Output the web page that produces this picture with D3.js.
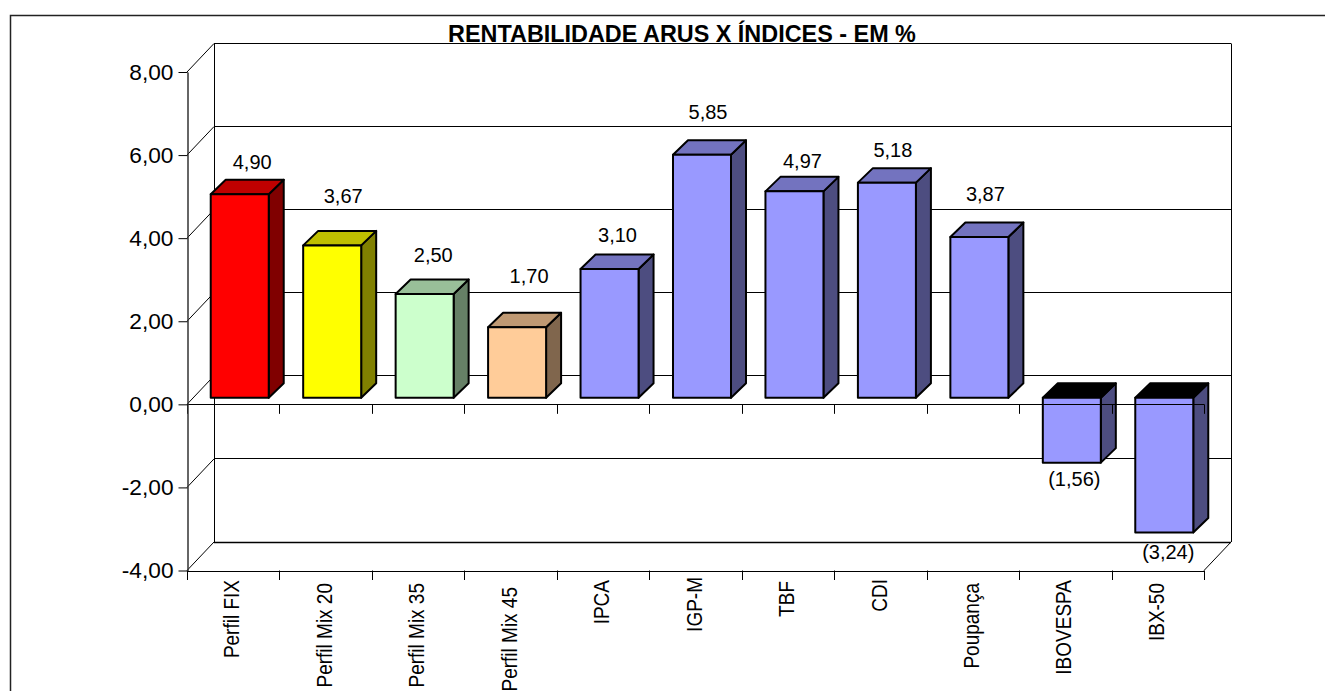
<!DOCTYPE html>
<html>
<head>
<meta charset="utf-8">
<script src="https://cdn.jsdelivr.net/npm/d3@7"></script>
<style>
html, body { margin: 0; padding: 0; background: #fff; overflow: hidden; }
text { font-family: "Liberation Sans", Arial, sans-serif; fill: #000; }
</style>
</head>
<body>
<div id="chart"></div>
<script>
// values
var categories = ["Perfil FIX", "Perfil Mix 20", "Perfil Mix 35", "Perfil Mix 45", "IPCA", "IGP-M", "TBF", "CDI", "Poupança", "IBOVESPA", "IBX-50"];
var values = [4.90, 3.67, 2.50, 1.70, 3.10, 5.85, 4.97, 5.18, 3.87, -1.56, -3.24];
var yTicks = [-4, -2, 0, 2, 4, 6, 8];
var titleText = "RENTABILIDADE ARUS X ÍNDICES - EM %";

var frontColors = ["#ff0000", "#ffff00", "#ccffcc", "#ffcc99", "#9999ff", "#9999ff", "#9999ff", "#9999ff", "#9999ff", "#9999ff", "#9999ff"];

// chart's own odd label placement, px above the back top edge of the bar (below the bar for negatives)
var labelLift = [18, 35, 24, 37, 20, 28, 16, 18, 29, -16, -20];
var labelShift = [12.5, 11, 8.6, 12, 8, 6, 8, 6, 6, 2.5, 4];
// category labels don't all start at the same y
var catNudge = [0, 3, 3, 7, 0, -3, 1, -1, 3, 0, 3];

var width = 1325, height = 691;
var wallDx = 27, wallDy = -28.5;   // front plane to back wall
var planeDx = 6.5, planeDy = -6.5; // front plane to bar front faces
var barDx = 15, barDy = -14.5;     // bar depth

var svg = d3.select("#chart").append("svg")
  .attr("width", width)
  .attr("height", height)
  .style("display", "block");

var x = d3.scaleBand()
  .domain(categories)
  .range([187, 1204])
  .paddingInner(0.3726)
  .paddingOuter(0.1863);

var y = d3.scaleLinear()
  .domain([-4, 8])
  .range([570.5, 72]);

var decimal = d3.formatLocale({decimal: ",", thousands: ".", grouping: [3], currency: ["", ""]}).format(".2f");

function shade(hex, k) {
  var c = d3.rgb(hex);
  return d3.rgb(c.r * k, c.g * k, c.b * k).formatHex();
}

// outer frame, runs off the page on the right and bottom
svg.append("path")
  .attr("d", "M10.5," + height + "V15.5H" + width)
  .attr("fill", "none")
  .attr("stroke", "#222")
  .attr("stroke-width", 1.5);

var left = x.range()[0], right = x.range()[1];
var step = x.step();
var edges = d3.range(categories.length + 1).map(function(i) { return left + i * step; });

var lines = svg.append("g").attr("stroke", "#000").attr("fill", "none");

// back wall
lines.selectAll(".grid").data(yTicks).enter().append("line")
  .attr("class", "grid")
  .attr("x1", left + wallDx).attr("x2", right + wallDx)
  .attr("y1", function(d) { return Math.floor(y(d) + wallDy) + 0.5; })
  .attr("y2", function(d) { return Math.floor(y(d) + wallDy) + 0.5; })
  .attr("stroke-width", function(d) { return d === -4 ? 1.5 : 1; });

// side wall diagonals
lines.selectAll(".diag").data(yTicks).enter().append("line")
  .attr("class", "diag")
  .attr("x1", left).attr("y1", function(d) { return y(d); })
  .attr("x2", left + wallDx).attr("y2", function(d) { return y(d) + wallDy; });

// floor right edge
lines.append("line")
  .attr("x1", right).attr("y1", y(-4))
  .attr("x2", right + wallDx).attr("y2", y(-4) + wallDy);

// wall verticals
[left + wallDx, right + wallDx].forEach(function(px) {
  lines.append("line")
    .attr("x1", Math.round(px) + 0.5).attr("x2", Math.round(px) + 0.5)
    .attr("y1", y(8) + wallDy).attr("y2", y(-4) + wallDy);
});

// floor front edge, ticks
lines.append("line")
  .attr("x1", left).attr("x2", right)
  .attr("y1", Math.round(y(-4)) + 0.5).attr("y2", Math.round(y(-4)) + 0.5);
lines.selectAll(".floorTick").data(edges).enter().append("line")
  .attr("class", "floorTick")
  .attr("x1", function(d) { return Math.round(d) + 0.5; })
  .attr("x2", function(d) { return Math.round(d) + 0.5; })
  .attr("y1", y(-4)).attr("y2", y(-4) + 9.5);

// bars
var bars = svg.selectAll(".bar").data(values).enter().append("g").attr("class", "bar");

function barX(i) { return x(categories[i]) + planeDx; }
function barTop(d) { return y(Math.max(d, 0)) + planeDy; }
function barBottom(d) { return y(Math.min(d, 0)) + planeDy; }

bars.append("polygon") // side
  .attr("points", function(d, i) {
    var r = barX(i) + x.bandwidth();
    return [[r, barTop(d)], [r + barDx, barTop(d) + barDy], [r + barDx, barBottom(d) + barDy], [r, barBottom(d)]].join(" ");
  })
  .attr("fill", function(d, i) { return shade(frontColors[i], 0.5); });

bars.append("polygon") // top
  .attr("points", function(d, i) {
    var l = barX(i), r = l + x.bandwidth();
    return [[l, barTop(d)], [l + barDx, barTop(d) + barDy], [r + barDx, barTop(d) + barDy], [r, barTop(d)]].join(" ");
  })
  .attr("fill", function(d, i) { return d < 0 ? "#000" : shade(frontColors[i], 0.75); });

bars.append("rect") // front
  .attr("x", function(d, i) { return barX(i); })
  .attr("y", function(d) { return barTop(d); })
  .attr("width", x.bandwidth())
  .attr("height", function(d) { return barBottom(d) - barTop(d); })
  .attr("fill", function(d, i) { return frontColors[i]; });

bars.selectAll("polygon, rect")
  .attr("stroke", "#000")
  .attr("stroke-width", 2)
  .attr("stroke-linejoin", "round");

// zero line and y axis go over the bars
var axes = svg.append("g").attr("stroke", "#000").attr("fill", "none");
axes.append("line")
  .attr("x1", left).attr("x2", right)
  .attr("y1", Math.round(y(0)) + 0.5).attr("y2", Math.round(y(0)) + 0.5);
axes.selectAll(".zeroTick").data(edges).enter().append("line")
  .attr("class", "zeroTick")
  .attr("x1", function(d) { return Math.round(d) + 0.5; })
  .attr("x2", function(d) { return Math.round(d) + 0.5; })
  .attr("y1", y(0)).attr("y2", y(0) + 9.5);

var yAxis = d3.axisLeft(y)
  .tickValues(yTicks)
  .tickSize(9)
  .tickSizeOuter(0)
  .tickPadding(5)
  .tickFormat(function(d) { return decimal(d).replace("−", "-"); });

var yG = svg.append("g")
  .attr("transform", "translate(" + (left + 0.5) + ",0)")
  .call(yAxis);
yG.select(".domain").attr("stroke", "#333").attr("stroke-width", 1.5);
yG.selectAll(".tick line").attr("stroke", "#000");
yG.selectAll("text")
  .style("font-family", '"Liberation Sans", Arial, sans-serif')
  .style("font-size", "22.7px")
  .attr("fill", "#000");

// category labels, glyphs in the reference are a bit stretched across the reading direction
var xAxis = d3.axisBottom(x).tickSize(0);
var xG = svg.append("g")
  .attr("transform", "translate(0," + y(-4) + ")")
  .call(xAxis);
xG.select(".domain").remove();
xG.selectAll("text")
  .attr("transform", function(d, i) { return "translate(-1.5," + (9.5 + catNudge[i]) + ") rotate(-90) scale(1,1.15)"; })
  .attr("text-anchor", "end")
  .attr("x", 0)
  .attr("y", 0)
  .attr("dy", "0.35em")
  .style("font-family", '"Liberation Sans", Arial, sans-serif')
  .style("font-size", "19px")
  .attr("fill", "#000");

// value labels
svg.selectAll(".value").data(values).enter().append("text")
  .attr("class", "value")
  .attr("x", function(d, i) { return barX(i) + x.bandwidth() / 2 + labelShift[i]; })
  .attr("y", function(d, i) {
    return (d < 0 ? barBottom(d) : barTop(d) + barDy) - labelLift[i];
  })
  .attr("dy", "0.35em")
  .attr("text-anchor", "middle")
  .style("font-size", "20px")
  .text(function(d) { return d < 0 ? "(" + decimal(-d) + ")" : decimal(d); });

svg.append("text")
  .attr("x", 682)
  .attr("y", 41.5)
  .attr("text-anchor", "middle")
  .style("font-size", "23.4px")
  .style("font-weight", "bold")
  .text(titleText);
</script>
</body>
</html>
